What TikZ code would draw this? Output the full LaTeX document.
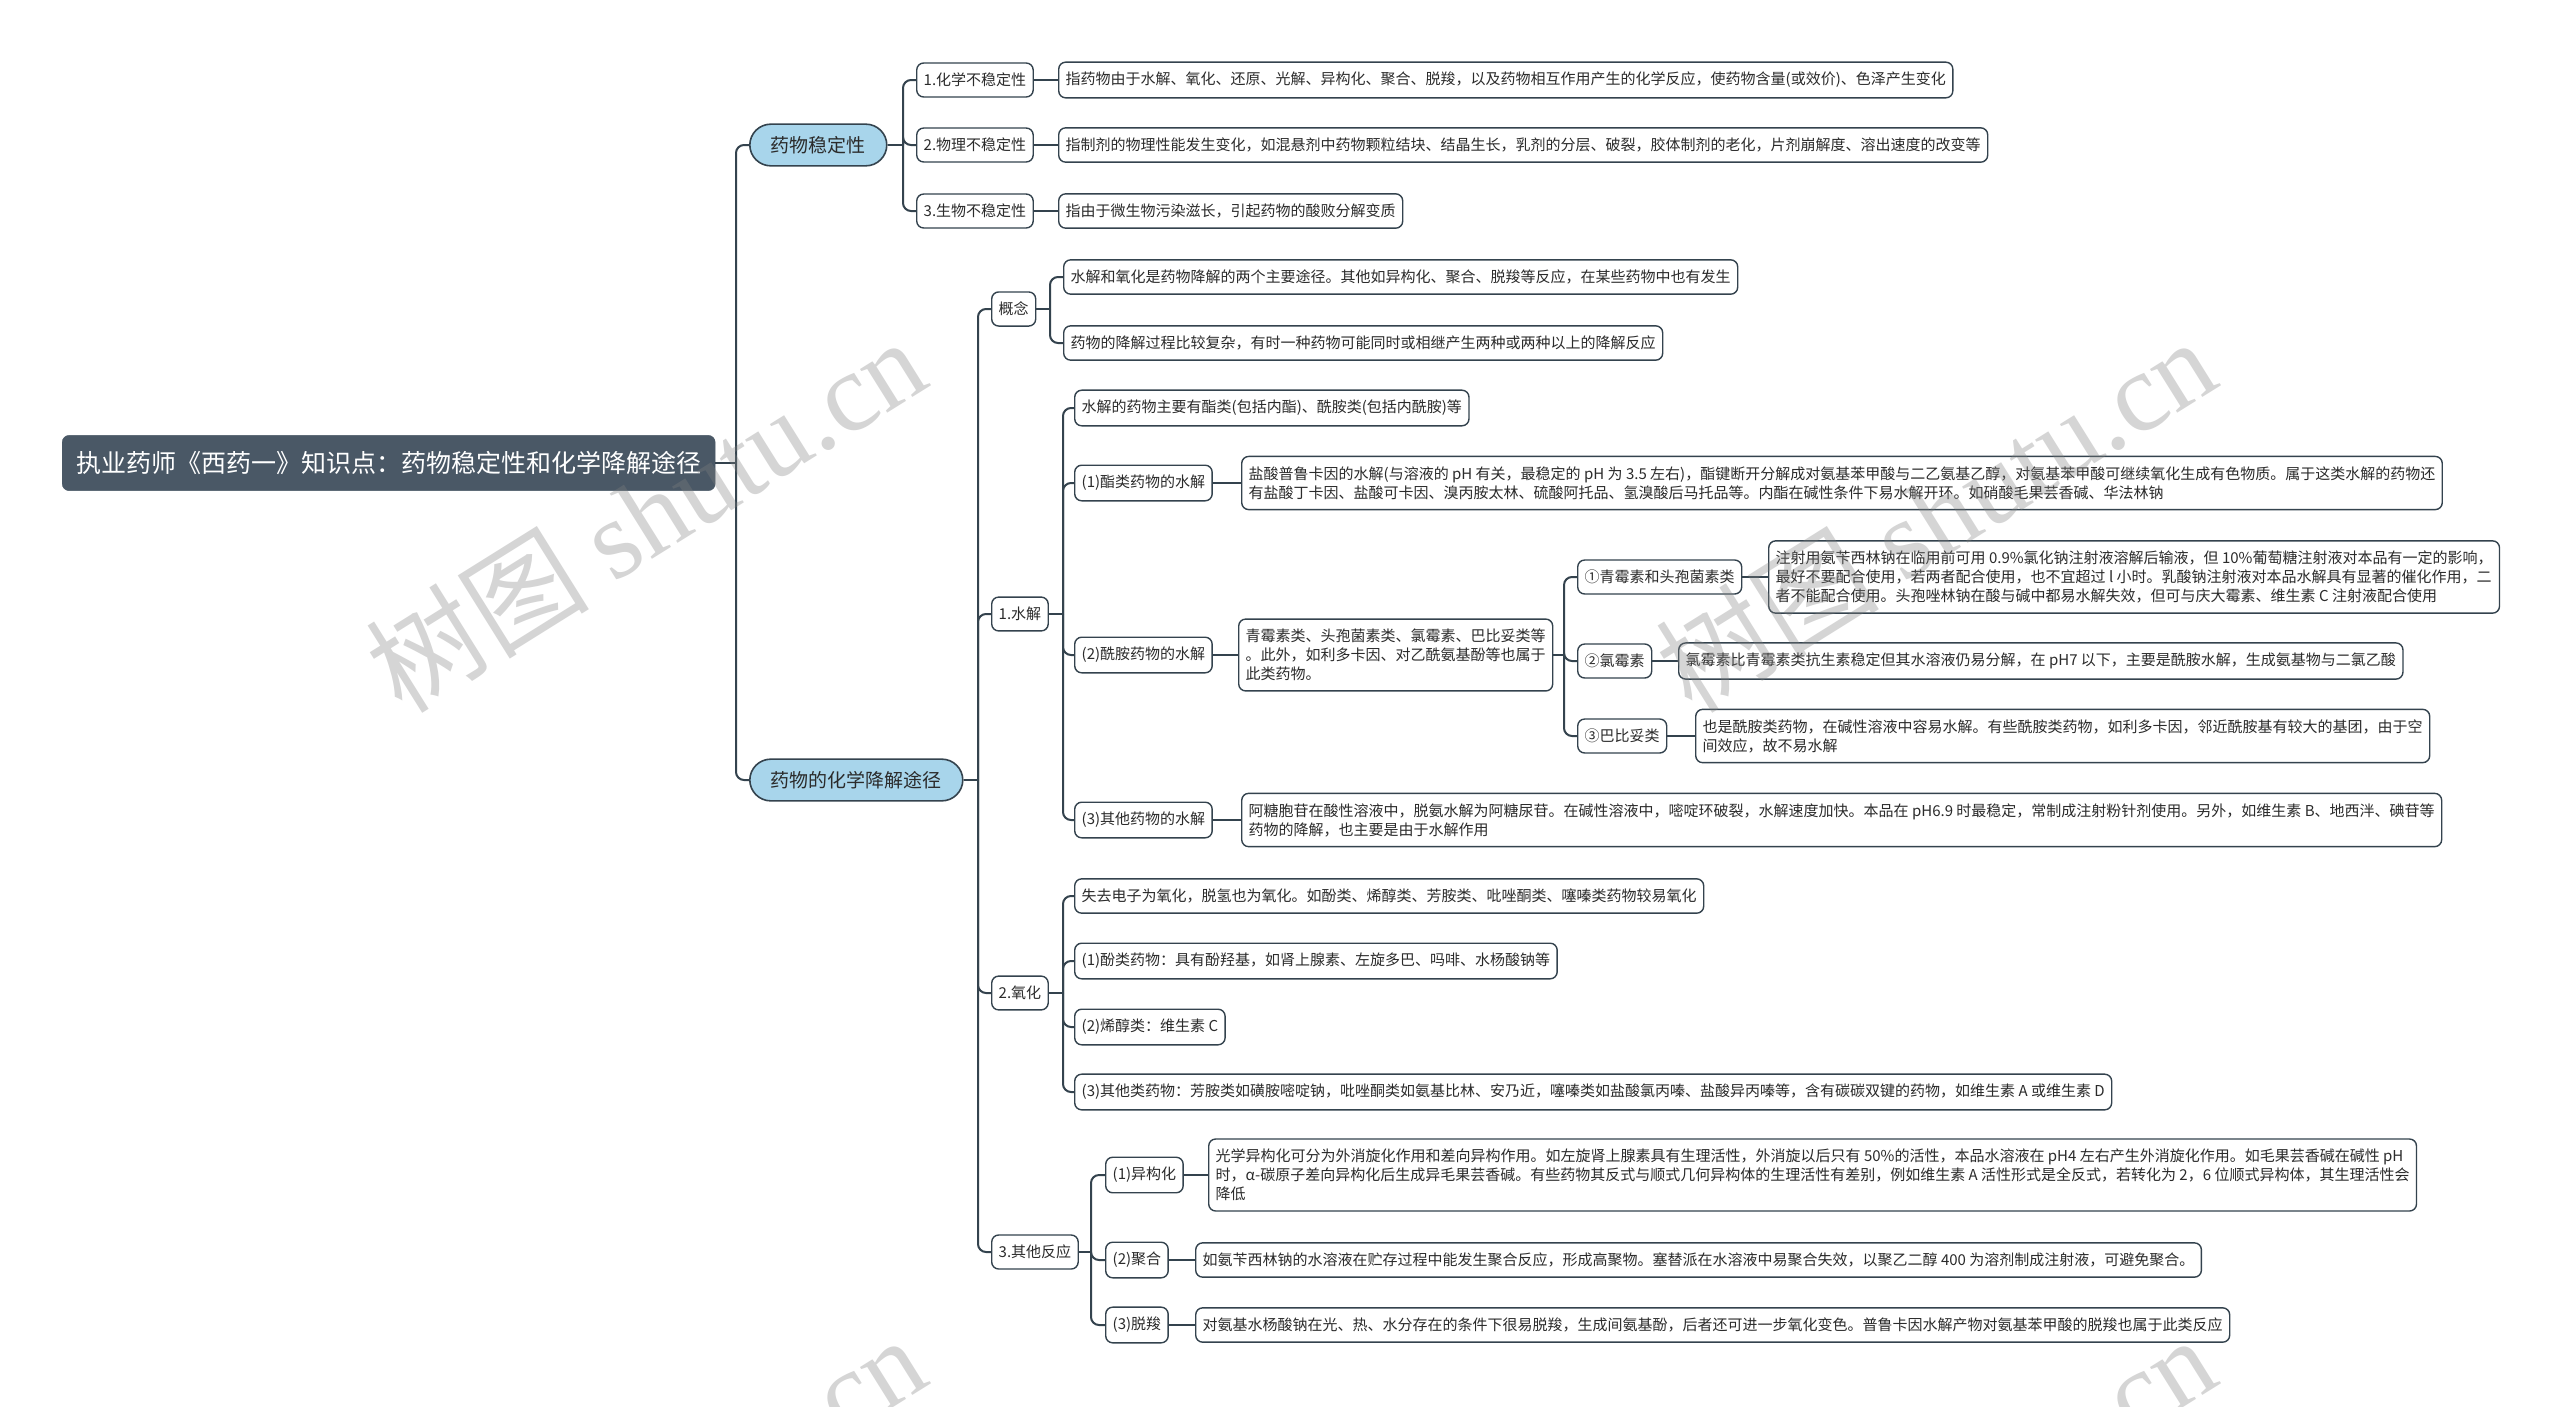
\documentclass[tikz,border=0pt]{standalone}
\usepackage{fontspec}
\setmainfont{Noto Sans CJK SC}
\newfontfamily\wmserif{Liberation Serif}
\definecolor{edgec}{HTML}{34434E}
\definecolor{rootc}{HTML}{4A5866}
\definecolor{bluec}{HTML}{A8D5EB}
\definecolor{txtc}{HTML}{2B2B2B}
\tikzset{
  edge/.style={draw=edgec, line width=2pt},
  box/.style={draw=edgec, line width=1.4pt, fill=white, rounded corners=7pt,
    inner xsep=7pt, inner ysep=10pt, font=\fontsize{15}{19}\selectfont,
    align=left, anchor=west, text=txtc},
  rootbox/.style={fill=rootc, draw=rootc, rounded corners=7pt, text=white,
    font=\fontsize{25}{30}\selectfont, inner xsep=14pt, inner ysep=16pt, anchor=west},
  mainbox/.style={fill=bluec, draw=edgec, line width=1.6pt, rounded corners=21pt,
    font=\fontsize{19}{23}\selectfont, inner xsep=21pt, inner ysep=12pt, anchor=west, text=txtc},
  wm/.style={text=gray, text opacity=0.33, font=\fontsize{112}{120}\selectfont, rotate=32, inner sep=0pt}
}
\newcommand{\mmconn}[3]{%
  \draw[edge] (#1.east) -- (#1.east -| #2);
  \draw[edge,rounded corners=8pt] (#1.east -| #2) |- (#3.west);}
\begin{document}
\begin{tikzpicture}[x=1pt,y=-1pt]
\useasboundingbox (0,0) rectangle (2560,1406);
\fill[white] (0,0) rectangle (2560,1406);
% trunk coordinates
\coordinate (t0) at (736,0);
\coordinate (tA) at (903,0);
\coordinate (tB) at (978,0);
\coordinate (tB1) at (1050,0);
\coordinate (tB2) at (1063,0);
\coordinate (tB2c) at (1564,0);
\coordinate (tB4) at (1091,0);
% nodes
\node[rootbox] (root) at (62,463) {执业药师《西药一》知识点：药物稳定性和化学降解途径};
\node[mainbox] (A) at (749,145) {药物稳定性};
\node[mainbox] (B) at (749,780) {药物的化学降解途径};

\node[box] (a1) at (916,80) {1.化学不稳定性};
\node[box] (a2) at (916,145) {2.物理不稳定性};
\node[box] (a3) at (916,211) {3.生物不稳定性};
\node[box] (a1t) at (1058,80) {指药物由于水解、氧化、还原、光解、异构化、聚合、脱羧，以及药物相互作用产生的化学反应，使药物含量(或效价)、色泽产生变化};
\node[box] (a2t) at (1058,145) {指制剂的物理性能发生变化，如混悬剂中药物颗粒结块、结晶生长，乳剂的分层、破裂，胶体制剂的老化，片剂崩解度、溶出速度的改变等};
\node[box] (a3t) at (1058,211) {指由于微生物污染滋长，引起药物的酸败分解变质};

\node[box] (b1) at (991,309) {概念};
\node[box] (b2) at (991,614) {1.水解};
\node[box] (b3) at (991,993) {2.氧化};
\node[box] (b4) at (991,1252) {3.其他反应};

\node[box] (b1a) at (1063,277) {水解和氧化是药物降解的两个主要途径。其他如异构化、聚合、脱羧等反应，在某些药物中也有发生};
\node[box] (b1b) at (1063,343) {药物的降解过程比较复杂，有时一种药物可能同时或相继产生两种或两种以上的降解反应};

\node[box] (b2a) at (1074,408) {水解的药物主要有酯类(包括内酯)、酰胺类(包括内酰胺)等};
\node[box] (b2b) at (1074,483) {(1)酯类药物的水解};
\node[box] (b2bt) at (1241,483) {盐酸普鲁卡因的水解(与溶液的 pH 有关，最稳定的 pH 为 3.5 左右)，酯键断开分解成对氨基苯甲酸与二乙氨基乙醇，对氨基苯甲酸可继续氧化生成有色物质。属于这类水解的药物还\\有盐酸丁卡因、盐酸可卡因、溴丙胺太林、硫酸阿托品、氢溴酸后马托品等。内酯在碱性条件下易水解开环。如硝酸毛果芸香碱、华法林钠};
\node[box] (b2c) at (1074,655) {(2)酰胺药物的水解};
\node[box] (b2cm) at (1238,655) {青霉素类、头孢菌素类、氯霉素、巴比妥类等\\。此外，如利多卡因、对乙酰氨基酚等也属于\\此类药物。};
\node[box] (p1) at (1577,577) {①青霉素和头孢菌素类};
\node[box] (p1t) at (1768,577) {注射用氨苄西林钠在临用前可用 0.9\%氯化钠注射液溶解后输液，但 10\%葡萄糖注射液对本品有一定的影响，\\最好不要配合使用，若两者配合使用，也不宜超过 l 小时。乳酸钠注射液对本品水解具有显著的催化作用，二\\者不能配合使用。头孢唑林钠在酸与碱中都易水解失效，但可与庆大霉素、维生素 C 注射液配合使用};
\node[box] (p2) at (1577,661) {②氯霉素};
\node[box] (p2t) at (1678,661) {氯霉素比青霉素类抗生素稳定但其水溶液仍易分解，在 pH7 以下，主要是酰胺水解，生成氨基物与二氯乙酸};
\node[box] (p3) at (1577,736) {③巴比妥类};
\node[box] (p3t) at (1695,736) {也是酰胺类药物，在碱性溶液中容易水解。有些酰胺类药物，如利多卡因，邻近酰胺基有较大的基团，由于空\\间效应，故不易水解};
\node[box] (b2d) at (1074,820) {(3)其他药物的水解};
\node[box] (b2dt) at (1241,820) {阿糖胞苷在酸性溶液中，脱氨水解为阿糖尿苷。在碱性溶液中，嘧啶环破裂，水解速度加快。本品在 pH6.9 时最稳定，常制成注射粉针剂使用。另外，如维生素 B、地西泮、碘苷等\\药物的降解，也主要是由于水解作用};

\node[box] (b3a) at (1074,896) {失去电子为氧化，脱氢也为氧化。如酚类、烯醇类、芳胺类、吡唑酮类、噻嗪类药物较易氧化};
\node[box] (b3b) at (1074,961) {(1)酚类药物：具有酚羟基，如肾上腺素、左旋多巴、吗啡、水杨酸钠等};
\node[box] (b3c) at (1074,1027) {(2)烯醇类：维生素 C};
\node[box] (b3d) at (1074,1092) {(3)其他类药物：芳胺类如磺胺嘧啶钠，吡唑酮类如氨基比林、安乃近，噻嗪类如盐酸氯丙嗪、盐酸异丙嗪等，含有碳碳双键的药物，如维生素 A 或维生素 D};

\node[box] (b4a) at (1105,1175) {(1)异构化};
\node[box] (b4at) at (1208,1175) {光学异构化可分为外消旋化作用和差向异构作用。如左旋肾上腺素具有生理活性，外消旋以后只有 50\%的活性，本品水溶液在 pH4 左右产生外消旋化作用。如毛果芸香碱在碱性 pH\\时，α-碳原子差向异构化后生成异毛果芸香碱。有些药物其反式与顺式几何异构体的生理活性有差别，例如维生素 A 活性形式是全反式，若转化为 2，6 位顺式异构体，其生理活性会\\降低};
\node[box] (b4b) at (1105,1260) {(2)聚合};
\node[box] (b4bt) at (1195,1260) {如氨苄西林钠的水溶液在贮存过程中能发生聚合反应，形成高聚物。塞替派在水溶液中易聚合失效，以聚乙二醇 400 为溶剂制成注射液，可避免聚合。};
\node[box] (b4c) at (1105,1325) {(3)脱羧};
\node[box] (b4ct) at (1195,1325) {对氨基水杨酸钠在光、热、水分存在的条件下很易脱羧，生成间氨基酚，后者还可进一步氧化变色。普鲁卡因水解产物对氨基苯甲酸的脱羧也属于此类反应};

% connectors
\mmconn{root}{t0}{A}
\mmconn{root}{t0}{B}
\mmconn{A}{tA}{a1}
\mmconn{A}{tA}{a2}
\mmconn{A}{tA}{a3}
\draw[edge] (a1.east) -- (a1t.west);
\draw[edge] (a2.east) -- (a2t.west);
\draw[edge] (a3.east) -- (a3t.west);
\mmconn{B}{tB}{b1}
\mmconn{B}{tB}{b2}
\mmconn{B}{tB}{b3}
\mmconn{B}{tB}{b4}
\mmconn{b1}{tB1}{b1a}
\mmconn{b1}{tB1}{b1b}
\mmconn{b2}{tB2}{b2a}
\mmconn{b2}{tB2}{b2b}
\mmconn{b2}{tB2}{b2c}
\mmconn{b2}{tB2}{b2d}
\draw[edge] (b2b.east) -- (b2bt.west);
\draw[edge] (b2c.east) -- (b2cm.west);
\draw[edge] (b2d.east) -- (b2dt.west);
\mmconn{b2cm}{tB2c}{p1}
\mmconn{b2cm}{tB2c}{p2}
\mmconn{b2cm}{tB2c}{p3}
\draw[edge] (p1.east) -- (p1t.west);
\draw[edge] (p2.east) -- (p2t.west);
\draw[edge] (p3.east) -- (p3t.west);
\mmconn{b3}{tB2}{b3a}
\mmconn{b3}{tB2}{b3b}
\mmconn{b3}{tB2}{b3c}
\mmconn{b3}{tB2}{b3d}
\mmconn{b4}{tB4}{b4a}
\mmconn{b4}{tB4}{b4b}
\mmconn{b4}{tB4}{b4c}
\draw[edge] (b4a.east) -- (b4at.west);
\draw[edge] (b4b.east) -- (b4bt.west);
\draw[edge] (b4c.east) -- (b4ct.west);
% watermarks (semi-transparent, on top as in the reference)
\begin{scope}
\clip (0,0) rectangle (2560,1406);
\node[wm] (wm1) at (645,514) {树图 {\wmserif shutu.cn}};
\node[wm] (wm2) at (1935,514) {树图 {\wmserif shutu.cn}};
\node[wm] (wm3) at (645,1512) {树图 {\wmserif shutu.cn}};
\node[wm] (wm4) at (1935,1512) {树图 {\wmserif shutu.cn}};
\end{scope}
\end{tikzpicture}
\end{document}
